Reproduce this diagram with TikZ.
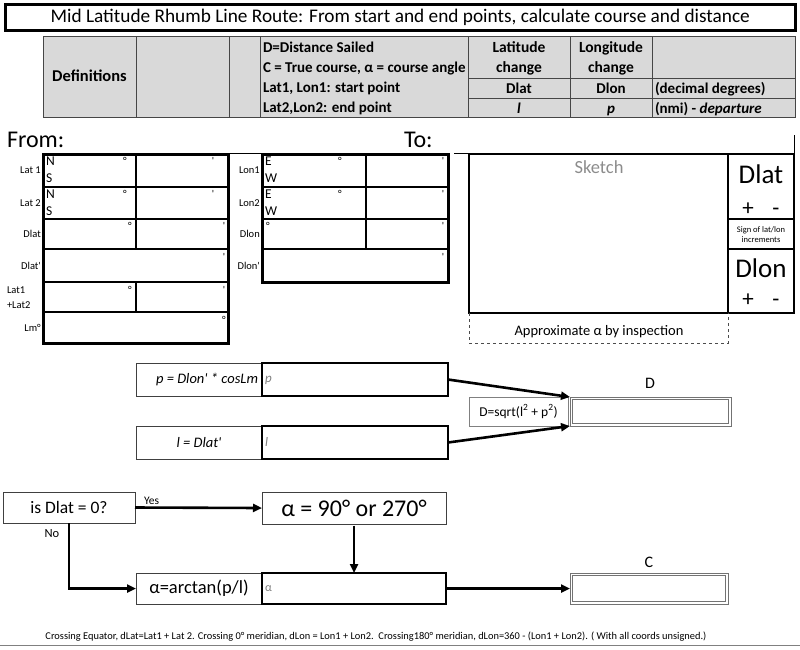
\documentclass[tikz,border=0pt]{standalone}
\usepackage{fontspec}
\setmainfont{Carlito}
\usetikzlibrary{arrows.meta}
\newcommand\fsz[1]{\fontsize{#1}{#1}\selectfont}
\newcommand\pr{\textquotesingle}
\definecolor{tblgray}{RGB}{217,217,217}
\definecolor{tblline}{RGB}{70,70,70}
\begin{document}
\begin{tikzpicture}[x=1pt,y=-1pt,
  tk/.style={line width=2.4pt},
  tko/.style={line width=3pt},
  txt/.style={inner sep=0pt, outer sep=0pt},
  bt/.style={inner sep=0pt, outer sep=0pt, anchor=base, font=\fsz{15}\bfseries},
  btw/.style={inner sep=0pt, outer sep=0pt, anchor=base west, font=\fsz{15}\bfseries},
  resbox/.style={draw, line width=2.6pt, inner sep=0pt, outer sep=0pt, anchor=north west},
  lblbox/.style={draw=black!75, line width=0.8pt, inner sep=0pt, outer sep=0pt, anchor=north west},
  dblbox/.style={draw=black!55, line width=0.9pt, inner sep=0pt, outer sep=0pt, anchor=north west},
  arr/.style={line width=2.6pt, -{Triangle[length=9pt,width=8pt]}},
  cellmark/.style={inner sep=0pt, font=\fsz{10.5}},
  sidelbl/.style={inner sep=0pt, anchor=east, font=\fsz{10.5}}
]
\useasboundingbox (0,0) rectangle (800,649);

% ---------- title ----------
\node[draw, line width=2.6pt, minimum width=790pt, minimum height=26pt, inner sep=0pt, anchor=north west] (title) at (4,3)
  {\fsz{19.3}Mid Latitude Rhumb Line Route: From start and end points, calculate course and distance};

% ---------- definitions table ----------
\fill[tblgray] (43,36) rectangle (795,117);
\draw[tblline, line width=0.9pt] (43,36) rectangle (795,117);
\foreach \x in {136,229,260,468,570,652}
  \draw[tblline, line width=0.9pt] (\x,36) -- (\x,117);
\draw[tblline, line width=0.9pt] (468,78) -- (795,78);
\draw[tblline, line width=0.9pt] (468,98) -- (795,98);
\node[bt, font=\fsz{16.5}\bfseries] (tdef) at (89.5,81.5) {Definitions};
\node[btw] (t1) at (263,52) {D=Distance Sailed};
\node[btw] (t2) at (263,72) {C = True course, α = course angle};
\node[btw] (t3) at (263,92) {Lat1, Lon1: start point};
\node[btw] (t4) at (263,112) {Lat2,Lon2: end point};
\node[bt, font=\fsz{15.5}\bfseries] (tlat1) at (519,52) {Latitude};
\node[bt, font=\fsz{15.5}\bfseries] (tlat2) at (519,72) {change};
\node[bt, font=\fsz{15.5}\bfseries] (tlon1) at (611,52) {Longitude};
\node[bt, font=\fsz{15.5}\bfseries] (tlon2) at (611,72) {change};
\node[bt] (tdlat) at (519,93) {Dlat};
\node[bt] (tdlon) at (611,93) {Dlon};
\node[bt, font=\fsz{15}\bfseries\itshape] (tl) at (519,113) {l};
\node[bt, font=\fsz{15}\bfseries\itshape] (tp) at (611,113) {p};
\node[btw] (tdec) at (655,93) {(decimal degrees)};
\node[btw] (tnmi) at (655,113) {(nmi) - \textit{departure}};

% ---------- From / To ----------
\node[txt, anchor=base west, font=\fsz{24}] (from) at (7,147) {From:};
\node[txt, anchor=base west, font=\fsz{24}] (to) at (404,147) {To:};
\draw[line width=0.8pt] (228,153.5) -- (262,153.5);
\draw[line width=0.8pt] (454,153.5) -- (469,153.5);
\draw[line width=0.8pt] (794,135) -- (794,154);

% From table
\draw[tko] (43,154) rectangle (228,343);
\foreach \y in {187,219,249,282,312} \draw[tk] (43,\y) -- (228,\y);
\draw[tk] (136,154) -- (136,249);
\draw[tk] (136,282) -- (136,312);
\node[sidelbl] (lat1) at (41,170) {Lat 1};
\node[sidelbl] (lat2) at (41,203) {Lat 2};
\node[sidelbl] (dlatl) at (41,234) {Dlat};
\node[sidelbl] (dlatp) at (41,266) {Dlat\pr};
\node[txt, anchor=west, font=\fsz{10.5}] (latsa) at (7,290) {Lat1};
\node[txt, anchor=west, font=\fsz{10.5}] (latsb) at (7,305) {+Lat2};
\node[sidelbl] (lm) at (41,328) {Lm°};
\foreach \y/\n in {161/a,194/b} {
  \node[txt, anchor=west, font=\fsz{13.5}] (N\n) at (46,\y) {N};
  \node[txt, anchor=west, font=\fsz{13.5}] (S\n) at (46,\y+17) {S};
  \node[cellmark] (deg\n) at (125,\y) {°};
  \node[cellmark] (min\n) at (213,\y) {\pr};
}
\node[cellmark] (degc) at (130,226) {°};
\node[cellmark] (minc) at (224,226) {\pr};
\node[cellmark] (mind) at (224,257) {\pr};
\node[cellmark] (dege) at (130,290) {°};
\node[cellmark] (mine) at (224,290) {\pr};
\node[cellmark] (degf) at (224,320) {°};

% Lon table
\draw[tko] (262,154) rectangle (448,282);
\foreach \y in {187,219,249} \draw[tk] (262,\y) -- (448,\y);
\draw[tk] (366,154) -- (366,249);
\node[sidelbl] (lon1) at (260,170) {Lon1};
\node[sidelbl] (lon2) at (260,203) {Lon2};
\node[sidelbl] (dlonl) at (260,234) {Dlon};
\node[sidelbl] (dlonp) at (260,266) {Dlon\pr};
\foreach \y/\n in {161/a,194/b} {
  \node[txt, anchor=west, font=\fsz{13.5}] (E\n) at (265,\y) {E};
  \node[txt, anchor=west, font=\fsz{13.5}] (W\n) at (265,\y+17) {W};
  \node[cellmark] (ldeg\n) at (340,\y) {°};
  \node[cellmark] (lmin\n) at (443,\y) {\pr};
}
\node[cellmark] (ldegc) at (268,226) {°};
\node[cellmark] (lminc) at (443,226) {\pr};
\node[cellmark] (lmind) at (443,257) {\pr};

% Sketch
\draw[tk] (469,154) rectangle (794,313);
\draw[tk] (728,154) -- (728,313);
\draw[tk] (728,219) -- (794,219);
\draw[tk] (728,249) -- (794,249);
\node[txt, text=black!45, font=\fsz{18.5}] (sketch) at (599,167) {Sketch};
\node[txt, anchor=base, font=\fsz{27}] (sdlat) at (761,183) {Dlat};
\node[txt, anchor=base, font=\fsz{23}] (sp1) at (748,215) {+};
\node[txt, anchor=base, font=\fsz{23}] (sm1) at (776,215) {-};
\node[txt, font=\fsz{8.5}, align=center] (sign) at (761,234.5) {Sign of lat/lon\\[1pt]increments};
\node[txt, anchor=base, font=\fsz{27}] (sdlon) at (761,277) {Dlon};
\node[txt, anchor=base, font=\fsz{23}] (sp2) at (748,306) {+};
\node[txt, anchor=base, font=\fsz{23}] (sm2) at (776,306) {-};
\draw[dashed, line width=0.6pt, black!70] (469,313) -- (469,343) -- (728,343) -- (728,313);
\node[txt, font=\fsz{14.5}] (approx) at (599,332) {Approximate α by inspection};

% ---------- D computation ----------
\node[lblbox, minimum width=126pt, minimum height=33pt] (plab) at (136,363) {};
\node[txt, anchor=east, font=\fsz{14.5}\itshape] (ptxt) at (258,380) {p = Dlon\pr{} * cosLm};
\node[resbox, minimum width=186pt, minimum height=33pt] (pres) at (262,363) {};
\node[txt, anchor=west, text=black!50, font=\fsz{13}\itshape] (pval) at (265,380) {p};

\node[lblbox, minimum width=126pt, minimum height=33pt, font=\fsz{14.5}\itshape] (llab) at (136,426) {l = Dlat\pr};
\node[resbox, minimum width=186pt, minimum height=33pt] (lres) at (262,426) {};
\node[txt, anchor=west, text=black!50, font=\fsz{13}\itshape] (lval) at (265,442) {l};

\node[lblbox, draw=gray, minimum width=99pt, minimum height=29pt, font=\fsz{13.5}] (dform) at (469,397)
  {D=sqrt(l\textsuperscript{2} + p\textsuperscript{2})};
\node[dblbox, minimum width=161pt, minimum height=29pt] (dres) at (570,397) {};
\draw[black!55, line width=0.9pt] ([shift={(2.2,2.2)}]dres.north west) rectangle ([shift={(-2.2,-2.2)}]dres.south east);
\node[txt, font=\fsz{16}] (dlab) at (650,383) {D};
\draw[arr] (pres.east) -- (dres.north west);
\draw[arr] (lres.east) -- (dres.south west);

% ---------- C computation ----------
\node[lblbox, minimum width=132pt, minimum height=31pt, font=\fsz{17.5}] (q) at (3,492) {is Dlat = 0?};
\node[lblbox, minimum width=184pt, minimum height=32pt, font=\fsz{24}] (a90) at (262,492) {α = 90° or 270°};
\node[lblbox, minimum width=126pt, minimum height=31pt, font=\fsz{18.5}] (aform) at (136,573) {α=arctan(p/l)};
\node[resbox, minimum width=184pt, minimum height=31pt] (ares) at (262,573) {};
\node[txt, anchor=west, text=black!50, font=\fsz{12}] (aval) at (265,589) {α};
\node[dblbox, minimum width=158pt, minimum height=31pt] (cres) at (570,573) {};
\draw[black!55, line width=0.9pt] ([shift={(2.2,2.2)}]cres.north west) rectangle ([shift={(-2.2,-2.2)}]cres.south east);
\node[txt, font=\fsz{16}] (clab) at (649,562) {C};

\draw[arr] (q.east) -- node[pos=0.05, anchor=south west, inner sep=1.5pt, font=\fsz{11.5}] (yes) {Yes} (a90.west);
\draw[arr] ([yshift=-1.5pt]a90.south) -- (a90.south |- ares.north);
\draw[arr] (q.south) |- (aform.west);
\node[txt, font=\fsz{12.5}] (no) at (52,534) {No};
\draw[arr] (ares.east) -- (cres.west);

% ---------- footnote ----------
\node[txt, font=\fsz{10.4}] (foot) at (376,637)
  {Crossing Equator, dLat=Lat1 + Lat 2. Crossing 0° meridian, dLon = Lon1 + Lon2.\ \ Crossing180° meridian, dLon=360 - (Lon1 + Lon2). ( With all coords unsigned.)};
\draw[black!50, line width=0.6pt] (0,645) -- (800,645);
\end{tikzpicture}
\end{document}
